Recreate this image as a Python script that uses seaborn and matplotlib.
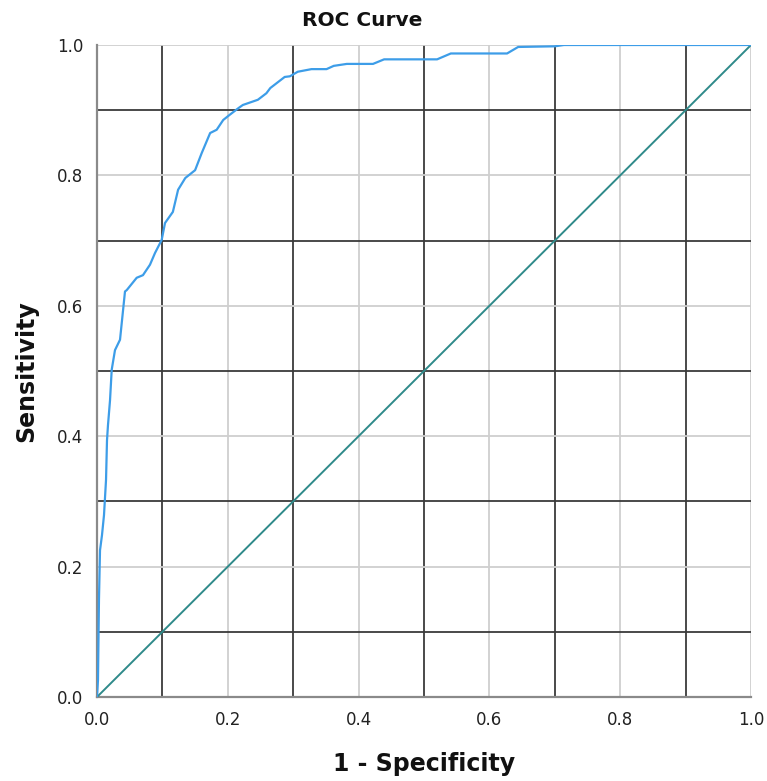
import numpy as np
import pandas as pd
import matplotlib
matplotlib.use("Agg")
import matplotlib.pyplot as plt
import seaborn as sns

fpr = [0.0, 0.0015, 0.003, 0.0046, 0.0076, 0.0107, 0.0138, 0.0153, 0.0168, 0.0199,
       0.0225, 0.0275, 0.0352, 0.0428, 0.0454, 0.0607, 0.0703, 0.081, 0.0887, 0.0989,
       0.104, 0.116, 0.124, 0.135, 0.150, 0.160, 0.173, 0.183, 0.193, 0.203,
       0.216, 0.223, 0.246, 0.259, 0.265, 0.287, 0.295, 0.307, 0.328, 0.351,
       0.362, 0.382, 0.422, 0.439, 0.520, 0.541, 0.627, 0.644, 0.700, 0.714, 1.0]
tpr = [0.0, 0.026, 0.149, 0.225, 0.248, 0.279, 0.333, 0.394, 0.417, 0.455,
       0.502, 0.532, 0.548, 0.622, 0.624, 0.643, 0.647, 0.663, 0.681, 0.701,
       0.727, 0.744, 0.778, 0.796, 0.808, 0.834, 0.865, 0.870, 0.885, 0.893,
       0.903, 0.908, 0.916, 0.926, 0.934, 0.951, 0.952, 0.959, 0.963, 0.963,
       0.968, 0.971, 0.971, 0.978, 0.978, 0.987, 0.987, 0.997, 0.998, 1.0, 1.0]
ref_x = [0.0, 1.0]
ref_y = [0.0, 1.0]
major_ticks = [0.0, 0.2, 0.4, 0.6, 0.8, 1.0]
minor_ticks = [0.1, 0.3, 0.5, 0.7, 0.9]

sns.set_theme(style="white")
plt.rcParams['font.family'] = ['DejaVu Sans']

fig = plt.figure(figsize=(7.67, 7.81), dpi=100)
ax = fig.add_axes([97/767, 1-697/781, (751-97)/767, (697-45)/781])

roc = pd.DataFrame({"fpr": fpr, "tpr": tpr})
ref = pd.DataFrame({"x": ref_x, "y": ref_y})
sns.lineplot(data=ref, x="x", y="y", ax=ax, color="#2f8a8a", lw=1.4,
             estimator=None, sort=False, zorder=3)
sns.lineplot(data=roc, x="fpr", y="tpr", ax=ax, color="#3d9de8", lw=1.6,
             estimator=None, sort=False, zorder=4)

ax.set_xlim(0, 1)
ax.set_ylim(0, 1)
ax.set_xticks(major_ticks)
ax.set_yticks(major_ticks)
ax.set_xticks(minor_ticks, minor=True)
ax.set_yticks(minor_ticks, minor=True)
ax.set_xticklabels([f"{t:.1f}" for t in major_ticks])
ax.set_yticklabels([f"{t:.1f}" for t in major_ticks])
ax.grid(True, which="major", color="#cfcfcf", lw=1.3, zorder=1)
ax.grid(True, which="minor", color="#3a3a3a", lw=1.3, zorder=1)
ax.set_axisbelow(True)
ax.tick_params(which="both", length=0, labelsize=12, colors="#222222")
ax.tick_params(axis="x", pad=10)
ax.tick_params(axis="y", pad=10)

for s in ["top", "right"]:
    ax.spines[s].set_visible(False)
for s in ["left", "bottom"]:
    ax.spines[s].set_color("#8a8a8a")
    ax.spines[s].set_linewidth(1.6)

ax.set_xlabel("1 - Specificity", fontsize=17, fontweight="bold", labelpad=17, color="#111111")
ax.set_ylabel("Sensitivity", fontsize=17, fontweight="bold", labelpad=13, color="#111111")
fig.text(362/767, 1-20/781, "ROC Curve", fontsize=14.5, fontweight="bold",
         ha="center", va="center", color="#111111")

fig.savefig("out.png", dpi=100)
